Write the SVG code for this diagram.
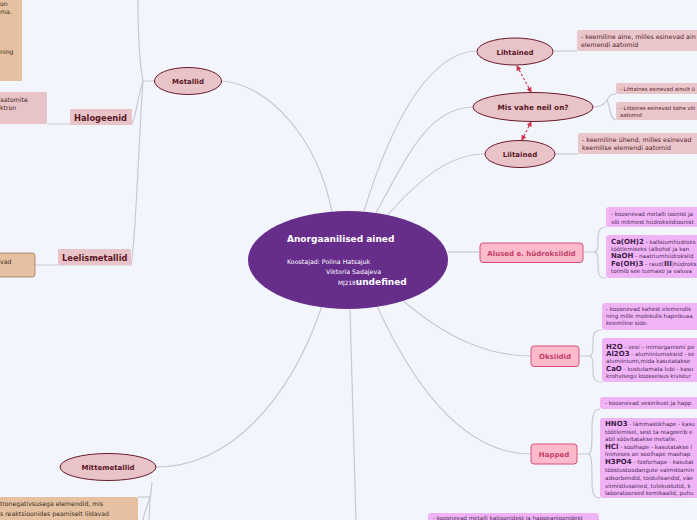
<svg xmlns="http://www.w3.org/2000/svg" width="697" height="520" viewBox="0 0 697 520">
<defs>
<style>
.bg{fill:#f3f5fd}
.con{fill:none;stroke:#c9c9d2;stroke-width:1.2}
.el{fill:#e8c4c8;stroke:#6b1a2c;stroke-width:1}
.elt{font-family:"DejaVu Sans",Verdana,sans-serif;font-weight:bold;fill:#5a1626;text-anchor:middle}
.lbl{fill:#e8c4c8}
.lblt{font-family:"DejaVu Sans",Verdana,sans-serif;font-weight:bold;fill:#5a1626;font-size:8.3px}
.pk{fill:#fcbacb;stroke:#d8507a;stroke-width:1}
.pkt{font-family:"DejaVu Sans",Verdana,sans-serif;font-weight:bold;fill:#c33e68;font-size:7px;text-anchor:middle}
.rb{fill:#e8c6ca}
.rbt{font-family:"DejaVu Sans",Verdana,sans-serif;fill:#5a1a2a}
.mb{fill:#f0b3f6}
.mbt{font-family:"DejaVu Sans",Verdana,sans-serif;fill:#4e2a5a;font-size:5.6px}
.mbf{font-weight:bold;font-size:7px;fill:#3c1c46}
.tan{fill:#e5c1a2}
.tant{font-family:"DejaVu Sans",Verdana,sans-serif;fill:#3a2a1a;font-size:6.2px}
.dash{fill:none;stroke:#d0304a;stroke-width:1.1;stroke-dasharray:2.5,2}
</style>
<marker id="ah" viewBox="0 0 6 6" refX="5" refY="3" markerWidth="5" markerHeight="5" orient="auto-start-reverse">
<path d="M0,0 L6,3 L0,6 z" fill="#d0304a"/>
</marker>
</defs>
<rect class="bg" x="0" y="0" width="697" height="520"/>

<g id="connectors">
<path class="con" d="M221,81 C270,84 318,140 332,212"/>
<path class="con" d="M364,211 C392,120 430,52 477,51"/>
<path class="con" d="M376,213 C410,150 430,108 473,107"/>
<path class="con" d="M386,217 C420,178 450,154 485,154"/>
<path class="con" d="M448,252 L479,252"/>
<path class="con" d="M400,298 C448,340 490,356 531,356"/>
<path class="con" d="M377,306 C420,400 470,454 531,454"/>
<path class="con" d="M350,310 C352,400 355,470 356,520"/>
<path class="con" d="M322,306 C290,400 230,467 156,467"/>
<path class="con" d="M154,81 L143,81 C139,60 138,30 138,0"/>
<path class="con" d="M143,81 C138,95 137,112 132,124 L47,124"/>
<path class="con" d="M143,81 C138,150 136,240 131,265 L35,265"/>
<path class="con" d="M553,51 L577,51"/>
<path class="con" d="M593,107 C602,107 604,104 607,100 C610,96 610,94 616,94"/>
<path class="con" d="M607,100 C610,106 610,120 616,120"/>
<path class="con" d="M555,154 L578,154"/>
<path class="con" d="M584,252 L594,252 C598,252 598,248 598,240 C598,230 600,227 606,227"/>
<path class="con" d="M594,252 C598,252 598,256 598,266 C598,276 600,278 606,278"/>
<path class="con" d="M579,356 L589,356 C593,356 593,350 593,342 C593,333 595,330 602,330"/>
<path class="con" d="M589,356 C593,356 593,362 593,370 C593,380 595,382 602,382"/>
<path class="con" d="M577,454 L588,454 C592,454 592,445 592,430 C592,414 594,409 600,409"/>
<path class="con" d="M588,454 C592,454 592,465 592,480 C592,494 594,498 600,498"/>
<path class="con" d="M152,482 L151,492 C150,500 146,506 143,520"/>
<path class="con" d="M151,492 C149,502 150,510 149,520"/>
<path class="con" d="M150,497 L138,497"/>
<path class="dash" d="M517,66 L531,92" marker-start="url(#ah)" marker-end="url(#ah)"/>
<path class="dash" d="M531,122 L522,140" marker-start="url(#ah)" marker-end="url(#ah)"/>
</g>

<g id="center">
<ellipse cx="348" cy="260" rx="100" ry="49" fill="#662d8b"/>
<text x="287" y="242" font-family="DejaVu Sans,Verdana,sans-serif" font-weight="bold" font-size="9" fill="#ffffff">Anorgaanilised ained</text>
<text x="287" y="264" font-family="DejaVu Sans,Verdana,sans-serif" font-size="6.3" fill="#ffffff">Koostajad: Polina Hatsajuk</text>
<text x="326" y="274" font-family="DejaVu Sans,Verdana,sans-serif" font-size="6.3" fill="#ffffff">Viktoria Sadajeva</text>
<text x="338" y="285" font-family="DejaVu Sans,Verdana,sans-serif" font-size="5.8" fill="#ffffff">MJ218<tspan font-weight="bold" font-size="9">undefined</tspan></text>
</g>

<g id="metallid">
<ellipse class="el" cx="188" cy="81" rx="33.5" ry="13.5"/>
<text class="elt" x="188" y="84" font-size="7">Metallid</text>
</g>
<g id="metallid-top">
<rect class="tan" x="-3" y="-3" width="25" height="84"/>
<text class="tant" x="0" y="6" font-size="5.5">on</text>
<text class="tant" x="0" y="14" font-size="5.5">ma.</text>
<text class="tant" x="0" y="54" font-size="5.5">ning</text>
</g>
<g id="halogeenid">
<rect class="lbl" x="70" y="109" width="62" height="16"/>
<text class="lblt" x="74" y="120.5">Halogeenid</text>
</g>
<g id="halogeenid-text">
<rect class="lbl" x="-3" y="92" width="50" height="32" rx="2"/>
<text class="tant" x="0" y="102" font-size="5.8">aatomite</text>
<text class="tant" x="0" y="110" font-size="5.8">ktron</text>
</g>
<g id="leelismetallid">
<rect class="lbl" x="58" y="249" width="73" height="16"/>
<text class="lblt" x="62" y="260.5">Leelismetallid</text>
</g>
<g id="leelismetallid-text">
<rect class="tan" x="-4" y="253" width="39" height="24" rx="3" stroke="#9c7a5a" stroke-width="0.8"/>
<text class="tant" x="0" y="264" font-size="5.8">vad</text>
</g>

<g id="mittemetallid">
<ellipse class="el" cx="108" cy="467" rx="48" ry="13.5"/>
<text class="elt" x="108" y="470" font-size="7">Mittemetallid</text>
</g>
<g id="mittemetallid-text">
<rect class="tan" x="-4" y="497" width="142" height="30" rx="2"/>
<text class="tant" x="0" y="506">tronegativsusega elemendid, mis</text>
<text class="tant" x="0" y="516">s reaktsioonides peamiselt liidavad</text>
</g>

<g id="lihtained">
<ellipse class="el" cx="515" cy="51.5" rx="38" ry="13.5"/>
<text class="elt" x="515" y="54.5" font-size="7">Lihtained</text>
</g>
<g id="lihtained-text">
<rect class="rb" x="577" y="30" width="125" height="21" rx="2"/>
<text class="rbt" x="581" y="39" font-size="6.3">- keemiline aine, milles esinevad ain</text>
<text class="rbt" x="581" y="47" font-size="6.3">elemendi aatomid</text>
</g>

<g id="misvahe">
<ellipse class="el" cx="533" cy="107" rx="60" ry="14.5"/>
<text class="elt" x="533" y="110" font-size="7.3">Mis vahe neil on?</text>
</g>
<g id="misvahe-text1">
<rect class="rb" x="616" y="83" width="86" height="11" rx="2"/>
<text class="rbt" x="620" y="91" font-size="5.3">- Lihtaines esinevad ainult ü</text>
</g>
<g id="misvahe-text2">
<rect class="rb" x="616" y="102" width="86" height="18" rx="2"/>
<text class="rbt" x="620" y="110" font-size="5.3">- Liitaines esinevad kahe või</text>
<text class="rbt" x="620" y="117" font-size="5.3">aatomid</text>
</g>

<g id="liitained">
<ellipse class="el" cx="520" cy="154" rx="35" ry="13.5"/>
<text class="elt" x="520" y="157" font-size="7">Liitained</text>
</g>
<g id="liitained-text">
<rect class="rb" x="578" y="133" width="124" height="21" rx="2"/>
<text class="rbt" x="582" y="142" font-size="6.3">- keemiline ühend, milles esinevad</text>
<text class="rbt" x="582" y="150" font-size="6.3">keemilise elemendi aatomid</text>
</g>

<g id="alused">
<rect class="pk" x="480" y="243" width="103" height="19.5" rx="3"/>
<text class="pkt" x="531.5" y="255.5">Alused e. hüdroksiidid</text>
</g>
<g id="alused-text1">
<rect class="mb" x="606" y="207" width="96" height="20" rx="3"/>
<text class="mbt" x="611" y="216">- koosnevad metalli ioonist ja</text>
<text class="mbt" x="611" y="224">või mitmest hüdroksiidioonist</text>
</g>
<g id="alused-text2">
<rect class="mb" x="606" y="235" width="96" height="43" rx="3"/>
<text class="mbt" x="611" y="244"><tspan class="mbf">Ca(OH)2</tspan> - kaltsiumhüdroks</text>
<text class="mbt" x="611" y="251">töötlemiseks (alkohol ja kan</text>
<text class="mbt" x="611" y="258"><tspan class="mbf">NaOH</tspan> - naatriumhüdroksiid</text>
<text class="mbt" x="611" y="266"><tspan class="mbf">Fe(OH)3</tspan> - raud(<tspan class="mbf">III</tspan>)hüdroks</text>
<text class="mbt" x="611" y="273">toimib see tuimasti ja valuva</text>
</g>

<g id="oksiidid">
<rect class="pk" x="531" y="346" width="48" height="20.5" rx="3"/>
<text class="pkt" x="555" y="359">Oksiidid</text>
</g>
<g id="oksiidid-text1">
<rect class="mb" x="602" y="303" width="100" height="27" rx="3"/>
<text class="mbt" x="606" y="311">- koosnevad kahest elemendis</text>
<text class="mbt" x="606" y="318">ning mille molekulis hapnikuaa</text>
<text class="mbt" x="606" y="325">keemiline side.</text>
</g>
<g id="oksiidid-text2">
<rect class="mb" x="602" y="338" width="100" height="44" rx="3"/>
<text class="mbt" x="606" y="349"><tspan class="mbf">H2O</tspan> - vesi – inimorganismi pe</text>
<text class="mbt" x="606" y="356"><tspan class="mbf">Al2O3</tspan> - alumiiniumoksiid - se</text>
<text class="mbt" x="606" y="363">alumiiniumi,mida kasutatakse</text>
<text class="mbt" x="606" y="371"><tspan class="mbf">CaO</tspan> - kustutamata lubi - kasu</text>
<text class="mbt" x="606" y="378">krohvisegu koosseisus kivistur</text>
</g>

<g id="happed">
<rect class="pk" x="531" y="444" width="46" height="20" rx="3"/>
<text class="pkt" x="554" y="456.5">Happed</text>
</g>
<g id="happed-text1">
<rect class="mb" x="600" y="397" width="102" height="12" rx="3"/>
<text class="mbt" x="605" y="405">- koosnevad vesinikust ja happ</text>
</g>
<g id="happed-text2">
<rect class="mb" x="600" y="418" width="102" height="80" rx="3"/>
<text class="mbt" x="605" y="426"><tspan class="mbf">HNO3</tspan> - lämmastikhape - kasu</text>
<text class="mbt" x="605" y="434">töötlemisel, sest ta reageerib e</text>
<text class="mbt" x="605" y="441">abil söövitatakse metalle.</text>
<text class="mbt" x="605" y="449"><tspan class="mbf">HCl</tspan> - soolhape - kasutatakse l</text>
<text class="mbt" x="605" y="456">Inimeses on soolhape maohap</text>
<text class="mbt" x="605" y="464"><tspan class="mbf">H3PO4</tspan> - fosforhape - kasutat</text>
<text class="mbt" x="605" y="472">tööstustoodangute valmistamin</text>
<text class="mbt" x="605" y="480">adsorbendid, toidulisandid, väe</text>
<text class="mbt" x="605" y="488">viimistlusained, tulekustutid, k</text>
<text class="mbt" x="605" y="495">laboratoorsed kemikaalid, puhu</text>
</g>

<g id="bottom-text">
<rect class="mb" x="428" y="513" width="171" height="14" rx="3"/>
<text class="mbt" x="433" y="520">- koosnevad metalli katioonidest ja happeanioonidest</text>
</g>
</svg>
